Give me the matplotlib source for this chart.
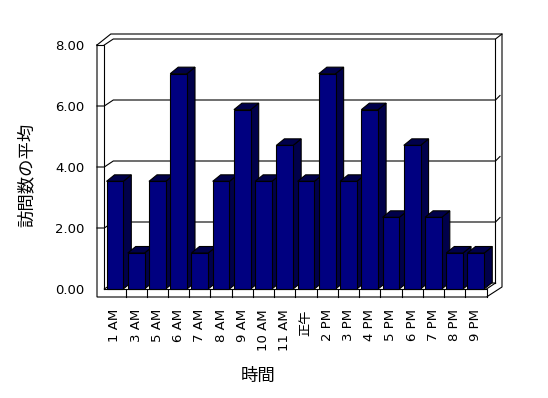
import matplotlib
matplotlib.use("Agg")
import matplotlib.pyplot as plt
from matplotlib.patches import Polygon
from matplotlib.lines import Line2D

# ---- data ----
categories = ["1 AM", "3 AM", "5 AM", "6 AM", "7 AM", "8 AM", "9 AM", "10 AM", "11 AM",
              "正午", "2 PM", "3 PM", "4 PM", "5 PM", "6 PM", "7 PM", "8 PM", "9 PM"]
values = [3.53, 1.18, 3.53, 7.06, 1.18, 3.53, 5.88, 3.53, 4.71,
          3.53, 7.06, 3.53, 5.88, 2.35, 4.71, 2.35, 1.18, 1.18]
yticks = [0, 2, 4, 6, 8]
ytick_labels = ["0.00", "2.00", "4.00", "6.00", "8.00"]
x_title = "時間"
y_title = "訪問数の平均"

W, H = 548, 398
fig = plt.figure(figsize=(W / 100, H / 100), dpi=100)
fig.patch.set_facecolor("white")

# front plane in pixels
FL, FR, FB, FT = 104.3, 486.5, 289.0, 45.0
ax = fig.add_axes([FL / W, (H - FB) / H, (FR - FL) / W, (FB - FT) / H])
n = len(categories)
ax.set_xlim(-0.5, n - 0.5)
ax.set_ylim(0, 8)
for s in ax.spines.values():
    s.set_visible(False)
ax.patch.set_visible(False)

SX = (FR - FL) / n          # px per category
SY = (FB - FT) / 8.0        # px per value unit


def P(px, py):
    return (-0.5 + (px - FL) / SX, (FB - py) / SY)


LW = 0.8
K = "black"


def line(pts, z=1):
    xs, ys = zip(*[P(*p) for p in pts])
    ax.add_line(Line2D(xs, ys, color=K, lw=LW, zorder=z, clip_on=False,
                       solid_joinstyle="miter"))


# wall geometry (pixels)
LO = 97.0          # left wall outer
BDX, BDY = 9.0, 6.0   # depth to back wall
BL = FL + BDX
BR = FR + BDX
OT = 34.0          # outer top
ORX = 502.0        # outer right
FLB = 297.0        # floor front bottom

# outer hull
line([(LO, FT), (LO, FLB), (FR, FLB), (ORX, FLB - 10), (ORX, OT), (BL - 2.5, OT), (LO, FT)])
line([(LO, FT), (FL, FT), (FL, FB)])
line([(FL, FT), (BL, FT - BDY), (BR, FT - BDY), (ORX, OT)])
line([(BR, FT - BDY), (BR, FB - BDY)])
# floor
line([(FL, FB), (FR, FB), (FR, FLB)])
line([(FR, FB), (BR, FB - BDY)])
line([(FL, FB), (BL, FB - BDY), (BR, FB - BDY)])
for k in range(1, n):
    xk = FL + SX * k
    line([(xk, FB), (xk, FLB)])
# gridlines
for v in yticks[1:-1]:
    yf = FB - v * SY
    line([(LO, yf), (FL, yf), (BL, yf - BDY), (BR, yf - BDY), (BR + 4.5, yf - BDY - 4.5)])

# ---- bars ----
bw = 0.79
ddx = 8.0 / SX
ddy = 6.5 / SY
side_col = "#00004a"
front_col = "#000080"
bars = ax.bar(range(n), values, width=bw, color=front_col, edgecolor=K,
              linewidth=LW, clip_on=False)
for i, (b, v) in enumerate(zip(bars, values)):
    x0 = b.get_x()
    x1 = x0 + b.get_width()
    side = Polygon([(x1, 0), (x1 + ddx, ddy), (x1 + ddx, v + ddy), (x1, v)],
                   closed=True, facecolor=side_col, edgecolor=K, lw=LW,
                   zorder=3 + 3 * i, clip_on=False)
    top = Polygon([(x0, v), (x0 + ddx, v + ddy), (x1 + ddx, v + ddy), (x1, v)],
                  closed=True, facecolor=side_col, edgecolor=K, lw=LW,
                  zorder=4 + 3 * i, clip_on=False)
    ax.add_patch(side)
    ax.add_patch(top)
    b.set_zorder(5 + 3 * i)

# ---- ticks and labels ----
fam = ["DejaVu Sans", "Noto Sans CJK JP"]
ax.set_yticks(yticks)
ax.set_yticklabels(ytick_labels, fontsize=9.5, family=fam)
ax.set_xticks(range(n))
ax.set_xticklabels(categories, rotation=90, fontsize=9.5, family=fam, va="top")
ax.tick_params(axis="y", length=0, pad=14.4)
ax.tick_params(axis="x", length=0, pad=14.4)

fig.text(258 / W, 1 - 376 / H, x_title, ha="center", va="center", fontsize=12.5,
         family=["Noto Sans CJK JP", "DejaVu Sans"])
fig.text(27 / W, 1 - 175 / H, y_title, ha="center", va="center", rotation=90,
         fontsize=12.5, family=["Noto Sans CJK JP", "DejaVu Sans"])

fig.savefig("out.png", dpi=100, facecolor="white")
